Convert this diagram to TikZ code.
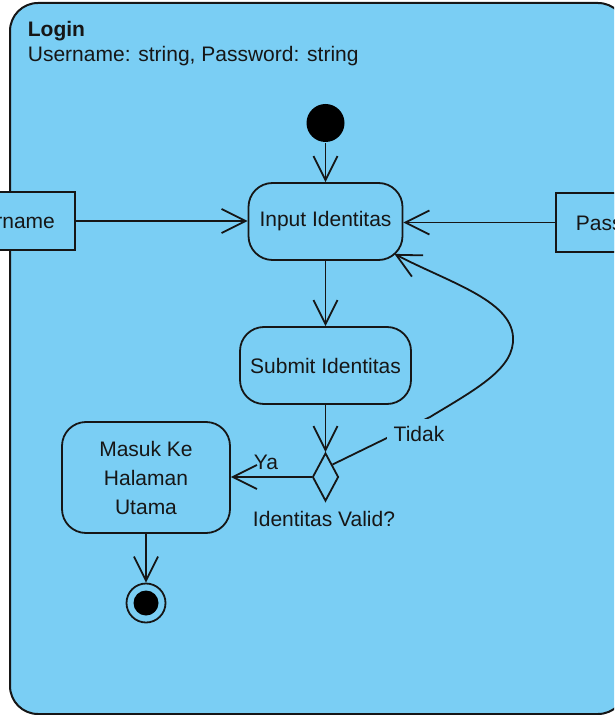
\documentclass[tikz,border=0pt]{standalone}
\usepackage{fontspec}
\setmainfont{Liberation Sans}
\usetikzlibrary{arrows.meta,shapes.geometric,calc}
\definecolor{bgblue}{RGB}{122,206,244}
\definecolor{ink}{RGB}{22,22,22}
\begin{document}
\begin{tikzpicture}[x=0.5pt,y=-0.5pt,
  font=\fontsize{10.5}{14.5}\selectfont, text=ink,
  line width=0.9pt,
  arr/.style={draw=ink, -{Straight Barb[length=12pt,width=12pt,line width=0.9pt]}},
  act/.style={draw=ink, fill=bgblue, rounded corners=12pt, inner sep=0pt, align=center},
  pin/.style={draw=ink, fill=bgblue, inner sep=0pt},
  lbl/.style={inner sep=1pt}
]
\useasboundingbox (0,0) rectangle (614,715);
\begin{scope}
\clip (0,0) rectangle (614,715);
% frame
\draw[fill=bgblue, draw=ink, line width=1pt, rounded corners=14pt] (10,3) rectangle (626,714);
\node[anchor=west, inner sep=0pt, font=\fontsize{10.5}{12}\selectfont\bfseries] (title) at (27,31) {Login};
\node[anchor=west, inner sep=0pt] (params) at (27,56) {Username: string, Password: string};

% pins
\node[pin, minimum width=68.5pt, minimum height=29pt] (user) at (6.5,221) {Username};
\node[pin, minimum width=66pt, minimum height=29.5pt] (pass) at (622,222.5) {Password};

% initial
\node[circle, fill=black, minimum size=19pt, inner sep=0pt] (init) at (325.5,123) {};

% actions
\node[act, minimum width=77pt, minimum height=38.5pt] (inp) at (325.5,221.5) {Input Identitas};
\node[act, minimum width=85.5pt, minimum height=38.5pt] (sub) at (325.5,365.5) {Submit Identitas};
\node[act, minimum width=84pt, minimum height=55.5pt] (mas) at (146,477.5) {Masuk Ke\\Halaman\\Utama};

% decision
\node[diamond, draw=ink, fill=bgblue, inner sep=0pt, minimum width=13pt, minimum height=24pt] (dia) at (325.5,477) {};
\node[lbl] (dlbl) at (324,519) {Identitas Valid?};

% final
\node[circle, draw=ink, fill=bgblue, minimum size=19.5pt, inner sep=0pt] (fin) at (146,603) {};
\node[circle, fill=black, minimum size=12.5pt, inner sep=0pt] (finin) at (fin) {};

% connectors
\draw[arr] (init) -- (inp);
\draw[arr] (user) -- (user -| inp.west);
\draw[arr] (pass.west) -- (pass.west -| inp.east);
\draw[arr] (inp) -- (sub);
\draw[arr] (sub) -- (dia.north);
\draw[arr] (dia.west) -- (dia.west -| mas.east);
\draw[arr] (mas) -- (fin);

\coordinate (tend) at ($(inp.south east)+(-9,-7)$);
\coordinate (c1) at (430,417);
\coordinate (c2) at (513,337);
\draw[arr] (dia.north east) -- (c1) .. controls (478,388) and (515,368) .. (c2)
  .. controls (511,300) and (448,282) .. (tend);

\node[lbl] (ya) at (266,462) {Ya};
\node[lbl, fill=bgblue, inner sep=3.5pt] (tidak) at (419,434) {Tidak};
\end{scope}
\end{tikzpicture}
\end{document}
